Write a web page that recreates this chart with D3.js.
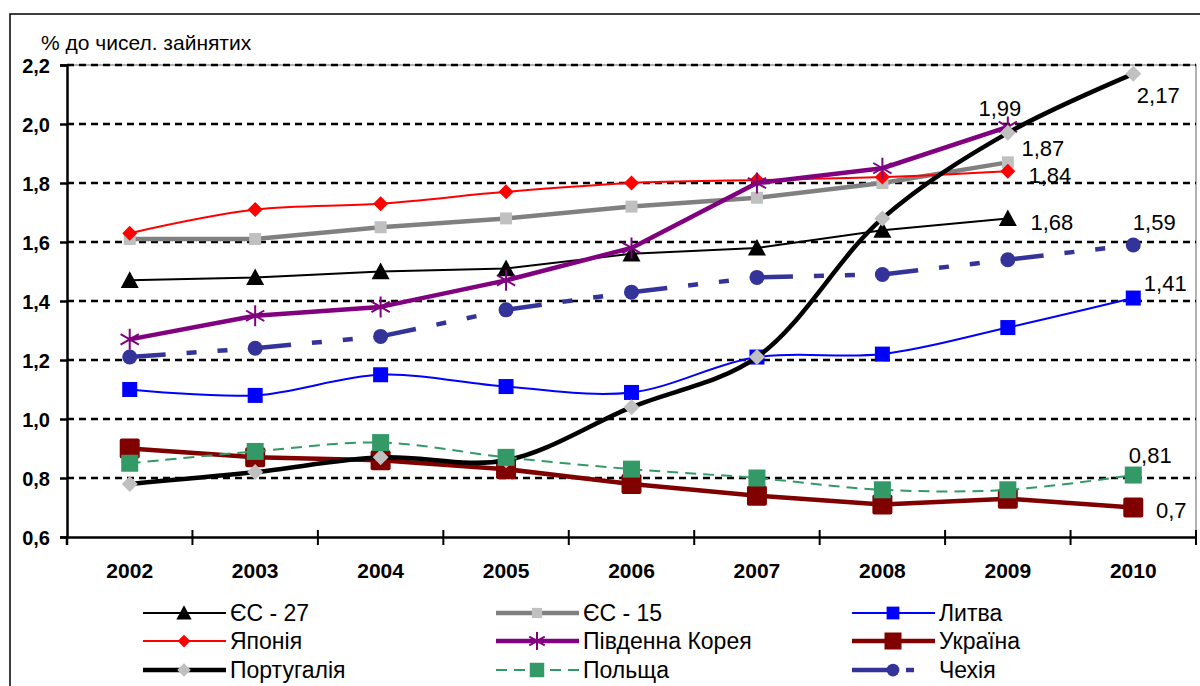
<!DOCTYPE html>
<html>
<head>
<meta charset="utf-8"/>
<title>R&D personnel</title>
<script src="https://d3js.org/d3.v7.min.js"></script>
<style>
  body { margin: 0; background: #fff; }
  svg text { font-family: Arial, "Liberation Sans", sans-serif; }
  .ytick { font-size: 20px; font-weight: bold; }
  .xtick { font-size: 21px; font-weight: bold; }
  .lbl { font-size: 22px; }
  .leg { font-size: 23px; }
</style>
</head>
<body>
<svg id="chart" width="1200" height="686"></svg>
<script>
// data
var years = ["2002","2003","2004","2005","2006","2007","2008","2009","2010"];
var yTicks = [0.6, 0.8, 1.0, 1.2, 1.4, 1.6, 1.8, 2.0, 2.2];

var eu27     = [1.47, 1.48, 1.50, 1.51, 1.56, 1.58, 1.64, 1.68, null];
var eu15     = [1.61, 1.61, 1.65, 1.68, 1.72, 1.75, 1.80, 1.87, null];
var lithuania= [1.10, 1.08, 1.15, 1.11, 1.09, 1.21, 1.22, 1.31, 1.41];
var japan    = [1.63, 1.71, 1.73, 1.77, 1.80, 1.81, 1.82, 1.84, null];
var korea    = [1.27, 1.35, 1.38, 1.47, 1.58, 1.80, 1.85, 1.99, null];
var ukraine  = [0.90, 0.87, 0.86, 0.83, 0.78, 0.74, 0.71, 0.73, 0.70];
var portugal = [0.78, 0.82, 0.87, 0.86, 1.04, 1.21, 1.68, 1.97, 2.17];
var poland   = [0.85, 0.89, 0.92, 0.87, 0.83, 0.80, 0.76, 0.76, 0.81];
var czech    = [1.21, 1.24, 1.28, 1.37, 1.43, 1.48, 1.49, 1.54, 1.59];

var names = ["ЄС - 27", "ЄС - 15", "Литва", "Японія", "Південна Корея", "Україна", "Португалія", "Польща", "Чехія"];
var endLabels = ["1,68", "1,87", "1,41", "1,84", "1,99", "0,7", "2,17", "0,81", "1,59"];

var series = [
  {values: eu27, color: "#000", width: 2, marker: "triangle", mfill: "#000", msize: 18, smooth: false, dash: null, ldx: 44, ldy: 4},
  {values: eu15, color: "#808080", width: 4.5, marker: "square", mfill: "#c0c0c0", msize: 12, smooth: false, dash: null, ldx: 35, ldy: -14},
  {values: lithuania, color: "#0000ff", width: 2, marker: "square", mfill: "#0000ff", msize: 15, smooth: true, dash: null, ldx: 32, ldy: -15},
  {values: japan, color: "#ff0000", width: 2, marker: "diamond", mfill: "#ff0000", msize: 15, smooth: true, dash: null, ldx: 42, ldy: 4},
  {values: korea, color: "#800080", width: 4.5, marker: "star", mfill: "#800080", msize: 21, smooth: false, dash: null, ldx: -8, ldy: -19},
  {values: ukraine, color: "#800000", width: 4.5, marker: "square", mfill: "#800000", msize: 20, smooth: false, dash: null, ldx: 38, ldy: 3},
  {values: portugal, color: "#000", width: 4.5, marker: "diamond", mfill: "#c0c0c0", msize: 16, smooth: true, dash: null, ldx: 25, ldy: 21},
  {values: poland, color: "#339966", width: 2, marker: "square", mfill: "#339966", msize: 17, smooth: true, dash: "11,7", ldx: 17, ldy: -20},
  {values: czech, color: "#333399", width: 4.5, marker: "circle", mfill: "#333399", msize: 15, smooth: false, dash: "36,21,10,21,10,40", segDash: true, ldx: 21, ldy: -23}
];

var svg = d3.select("#chart");

// outer frame
svg.append("rect")
  .attr("x", 10).attr("y", 14)
  .attr("width", 1210).attr("height", 700)
  .attr("fill", "none").attr("stroke", "#000").attr("stroke-width", 1.5);

var plotLeft = 67, plotRight = 1196, plotTop = 65, plotBottom = 537;

var x = d3.scaleBand().domain(years).range([plotLeft, plotRight]);
var y = d3.scaleLinear().domain([0.6, 2.2]).range([plotBottom, plotTop]);
var cx = function(i) { return x(years[i]) + x.bandwidth() / 2; };

// plot border (grey top/right)
svg.append("path")
  .attr("d", "M" + plotLeft + "," + plotTop + "H" + plotRight + "V" + plotBottom)
  .attr("fill", "none").attr("stroke", "#999").attr("stroke-width", 1.5);

// gridlines
svg.append("g").selectAll("line")
  .data(yTicks.filter(function(d) { return d > 0.6; }))
  .enter().append("line")
  .attr("x1", plotLeft).attr("x2", plotRight)
  .attr("y1", function(d) { return y(d); })
  .attr("y2", function(d) { return y(d); })
  .attr("stroke", "#000").attr("stroke-width", 2.5)
  .attr("stroke-dasharray", "7,5");

// y axis
var yAxis = d3.axisLeft(y).tickValues(yTicks).tickSize(7)
  .tickFormat(function(d) { return d3.format(".1f")(d).replace(".", ","); });
var gy = svg.append("g").attr("transform", "translate(" + plotLeft + ",0)").call(yAxis);
gy.select(".domain").attr("stroke", "#000").attr("stroke-width", 2.5);
gy.selectAll(".tick line").attr("stroke-width", 2.5);
gy.selectAll(".tick text").attr("class", "ytick").attr("x", -17).attr("dy", "0.35em").attr("fill", "#000");

// x axis
var xAxis = d3.axisBottom(x).tickSize(0);
var gx = svg.append("g").attr("transform", "translate(0," + plotBottom + ")").call(xAxis);
gx.select(".domain").attr("stroke", "#000").attr("stroke-width", 2.5);
gx.selectAll(".tick text").attr("class", "xtick").attr("y", 41).attr("dy", 0).attr("fill", "#000");
// category boundary ticks
svg.append("g").selectAll("line")
  .data(years)
  .enter().append("line")
  .attr("x1", function(d) { return x(d) + x.bandwidth(); })
  .attr("x2", function(d) { return x(d) + x.bandwidth(); })
  .attr("y1", plotBottom - 7).attr("y2", plotBottom + 8)
  .attr("stroke", "#000").attr("stroke-width", 2);
svg.append("line").attr("x1", plotLeft).attr("x2", plotLeft)
  .attr("y1", plotBottom).attr("y2", plotBottom + 8)
  .attr("stroke", "#000").attr("stroke-width", 2.5);

// y title
svg.append("text").attr("x", 41).attr("y", 50)
  .attr("font-size", 21).text("% до чисел. зайнятих");

function drawMarker(g, type, size, fill, color) {
  var h = size / 2;
  if (type == "triangle") {
    g.append("path").attr("d", "M0," + (-h) + "L" + h + "," + (h * 0.85) + "L" + (-h) + "," + (h * 0.85) + "Z").attr("fill", fill);
  } else if (type == "square") {
    g.append("rect").attr("x", -h).attr("y", -h).attr("width", size).attr("height", size)
      .attr("rx", size > 18 ? 2 : 0).attr("fill", fill);
  } else if (type == "diamond") {
    g.append("path").attr("d", "M0," + (-h) + "L" + h + ",0L0," + h + "L" + (-h) + ",0Z").attr("fill", fill);
  } else if (type == "circle") {
    g.append("circle").attr("r", h).attr("fill", fill);
  } else if (type == "star") {
    g.append("path").attr("d", "M0," + (-h) + "L0," + h + "M" + (-h * 0.87) + "," + (-h * 0.5) + "L" + (h * 0.87) + "," + (h * 0.5) + "M" + (-h * 0.87) + "," + (h * 0.5) + "L" + (h * 0.87) + "," + (-h * 0.5))
      .attr("stroke", color).attr("stroke-width", 2).attr("fill", "none");
  }
}

// series
series.forEach(function(s, k) {
  var pts = [];
  s.values.forEach(function(v, i) { if (v != null) pts.push([cx(i), y(v)]); });
  var line = d3.line().curve(s.smooth ? d3.curveCatmullRom.alpha(0.5) : d3.curveLinear);
  var g = svg.append("g");
  if (s.segDash) {
    // dash pattern restarts at every point
    d3.pairs(pts).forEach(function(pr) {
      g.append("path").attr("d", line(pr))
        .attr("fill", "none").attr("stroke", s.color).attr("stroke-width", s.width)
        .attr("stroke-dasharray", s.dash);
    });
  } else {
    g.append("path").attr("d", line(pts))
      .attr("fill", "none").attr("stroke", s.color).attr("stroke-width", s.width)
      .attr("stroke-linejoin", "round")
      .attr("stroke-dasharray", s.dash);
  }
  pts.forEach(function(p) {
    var m = g.append("g").attr("transform", "translate(" + p[0] + "," + p[1] + ")");
    drawMarker(m, s.marker, s.msize, s.mfill, s.color);
  });
  var last = pts[pts.length - 1];
  g.append("text").attr("class", "lbl")
    .attr("x", last[0] + s.ldx).attr("y", last[1] + s.ldy)
    .attr("text-anchor", "middle").attr("dy", "0.35em")
    .text(endLabels[k]);
});

// legend
var legCols = [143, 496, 852];
var legRows = [613, 641, 670];
series.forEach(function(s, i) {
  var lx = legCols[i % 3], ly = legRows[Math.floor(i / 3)];
  var g = svg.append("g");
  g.append("line").attr("x1", lx).attr("x2", lx + 83).attr("y1", ly).attr("y2", ly)
    .attr("stroke", s.color).attr("stroke-width", s.width)
    .attr("stroke-dasharray", s.segDash ? "40,14,8,40" : s.dash);
  var m = g.append("g").attr("transform", "translate(" + (lx + 41) + "," + ly + ")");
  drawMarker(m, s.marker, s.msize * 0.85, s.mfill, s.color);
  g.append("text").attr("class", "leg").attr("x", lx + 87).attr("y", ly).attr("dy", "0.35em").text(names[i]);
});
</script>
</body>
</html>
